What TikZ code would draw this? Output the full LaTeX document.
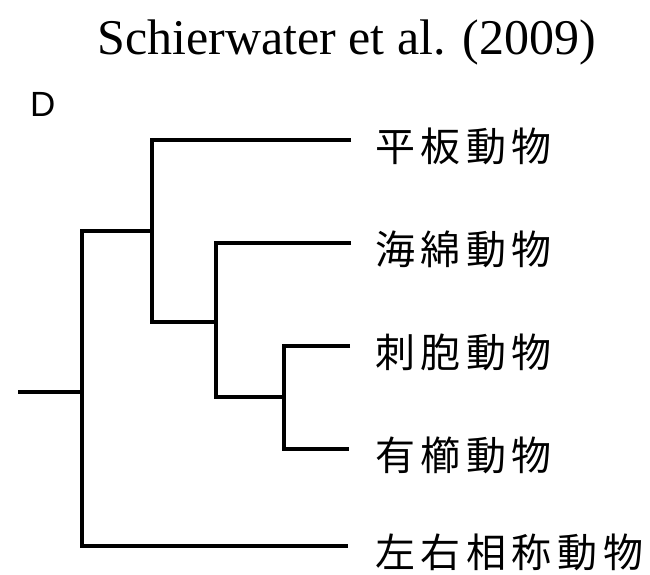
\documentclass[tikz,border=0pt]{standalone}
\usepackage{fontspec}
\setmainfont{Liberation Serif}
\newfontfamily\cjk[LetterSpace=14]{Noto Sans CJK JP}
\newfontfamily\arialf{Liberation Sans}
\begin{document}
\begin{tikzpicture}[x=1pt,y=-1pt,
  br/.style={line width=4pt, line cap=butt, line join=miter},
  leaf/.style={anchor=west, inner sep=0pt, font=\cjk\fontsize{40}{40}\selectfont}]
\useasboundingbox (0,0) rectangle (650,575);
\node[anchor=base, inner sep=0pt, font=\fontsize{50}{50}\selectfont] (title) at (346.5,55) {Schierwater et al. (2009)};
\node[anchor=base west, inner sep=0pt, font=\arialf\fontsize{35}{35}\selectfont] (panel) at (30,117) {D};
% leaves
\node[leaf] (plac) at (375,146) {平板動物};
\node[leaf] (spon) at (375,249) {海綿動物};
\node[leaf] (cnid) at (375,352) {刺胞動物};
\node[leaf] (cten) at (375,455) {有櫛動物};
\node[leaf] (bila) at (375,552) {左右相称動物};
% leaf ends
\coordinate (e1) at (351,140);
\coordinate (e2) at (351,243);
\coordinate (e3) at (350,346);
\coordinate (e4) at (349,449);
\coordinate (e5) at (348,546);
% internal points
\coordinate (root) at (18,392);
\coordinate (n1) at (82,392);
\coordinate (n1b) at (82,546);
\coordinate (n2t) at (152,231);
\coordinate (n2b) at (152,322);
\coordinate (n3m) at (216,322);
\coordinate (n3b) at (216,397);
\coordinate (n4m) at (284,397);
\coordinate (n4b) at (284,449);
\draw[br] (root) -- (n1);
\draw[br] (n2t) -| (n1b) -- (e5);
\draw[br] (e1) -| (n2b) -- (n3m);
\draw[br] (e2) -| (n3b) -- (n4m);
\draw[br] (e3) -| (n4b) -- (e4);
\end{tikzpicture}
\end{document}
